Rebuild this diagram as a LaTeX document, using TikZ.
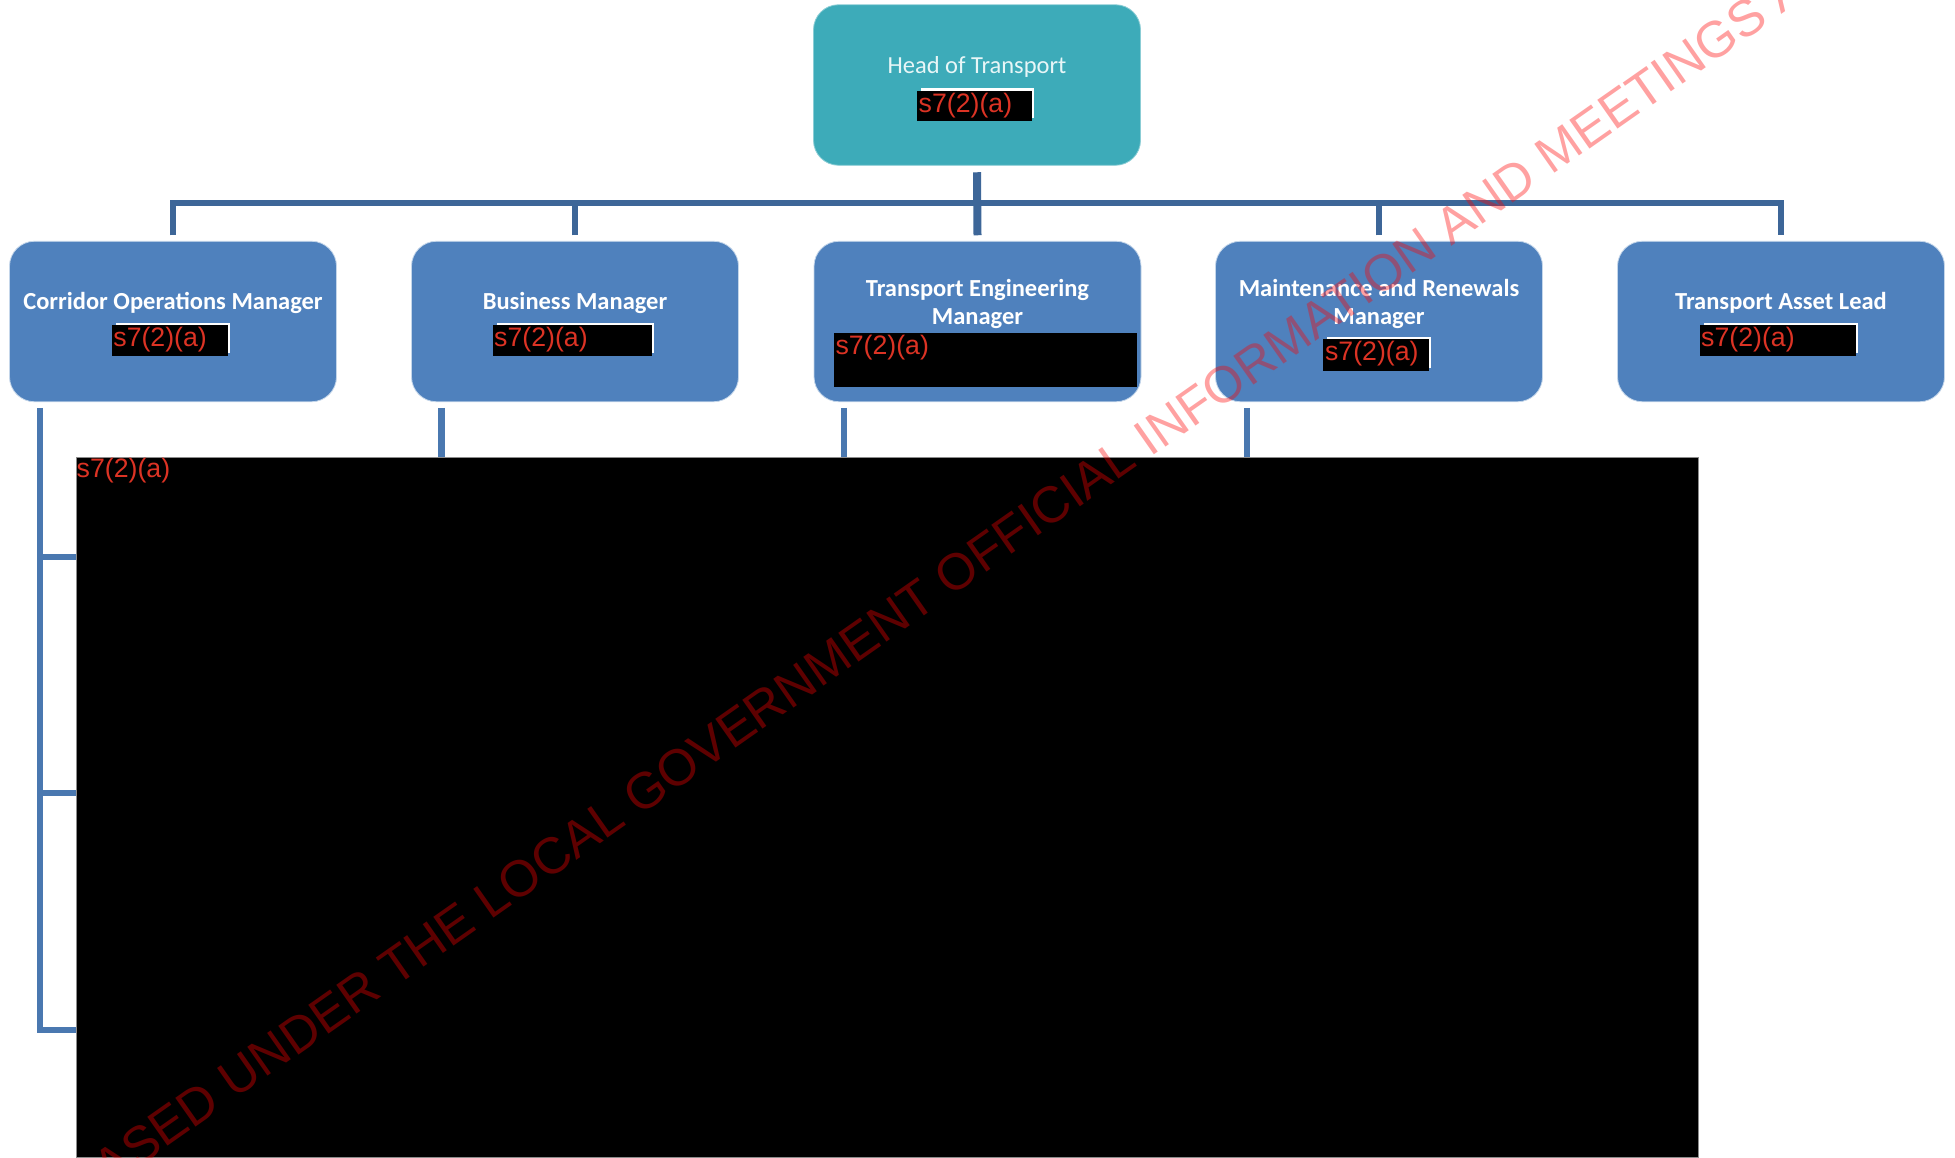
\documentclass[tikz,border=0pt]{standalone}
\usepackage{fontspec}
\setmainfont{Carlito}
\newfontfamily\redfont{Liberation Sans}
\usetikzlibrary{calc}
\definecolor{boxblue}{HTML}{4F81BD}
\definecolor{boxteal}{HTML}{3DABB9}
\definecolor{busblue}{HTML}{3D6698}
\definecolor{stemblue}{HTML}{4A78B0}
\definecolor{redtxt}{HTML}{DC3324}
\definecolor{headtxt}{HTML}{E8F6F7}
\definecolor{boxedge}{HTML}{C4D6EA}
\tikzset{
  orgbox/.style={draw=boxedge,line width=0.8pt,fill=boxblue,rounded corners=25pt,minimum width=327pt,minimum height=160.5pt,inner sep=0pt,outer sep=0pt},
  headbox/.style={orgbox,fill=boxteal,draw=boxteal!60!white},
  title/.style={text=white,font=\fontsize{24.5}{28}\selectfont\bfseries,align=center,inner sep=0pt},
  headtitle/.style={text=headtxt,font=\fontsize{24.5}{28}\selectfont,align=center,inner sep=0pt},
  bar/.style={draw=busblue,line width=6.5pt,line join=miter},
  thick bar/.style={draw=busblue,line width=8pt},
  stem/.style={draw=stemblue,line width=6.5pt,line join=miter},
  redtext/.style={text=redtxt,font=\redfont\fontsize{26.7}{30}\selectfont,inner sep=0pt,anchor=base west},
  watermark/.style={text=red,text opacity=0.37,font=\redfont\fontsize{51.1}{56}\selectfont,inner sep=0pt,anchor=base west,rotate=35.05}
}
\newcommand{\redbox}[6]{%
  \fill[white] (#2+4,#3-2.5) rectangle (#4+2.5,#5-3);
  \fill[black] (#2,#3) rectangle (#4,#5);
  \node[redtext] (#1) at (#2+1.5,#6) {s7(2)(a)};
}
\begin{document}
\begin{tikzpicture}[x=1pt,y=-1pt]
\useasboundingbox (0,0) rectangle (1955,1157);
\fill[white] (0,0) rectangle (1955,1157);
% boxes
\node[headbox] (head) at (977,85) {};
\node[orgbox] (b1) at (173,321.5) {};
\node[orgbox] (b2) at (575,321.5) {};
\node[orgbox] (b3) at (977.5,321.5) {};
\node[orgbox] (b4) at (1379,321.5) {};
\node[orgbox] (b5) at (1781,321.5) {};
\coordinate (bus) at (977,203);
\draw[bar] ([yshift=6pt]b1.north) -- (b1.north |- bus) -- (b5.north |- bus) -- ([yshift=6pt]b5.north);
\draw[bar] ([yshift=6pt]b2.north) -- (b2.north |- bus);
\draw[bar] ([yshift=6pt]b4.north) -- (b4.north |- bus);
\draw[thick bar] ([yshift=-7pt]head.south) -- ([yshift=6pt]b3.north);
% titles
\node[headtitle] (t0) at (977,67) {Head of Transport};
\node[title] (t1) at (173,303) {Corridor Operations Manager};
\node[title] (t2) at (575,303) {Business Manager};
\node[title] (t3) at (977.5,304) {Transport Engineering\\Manager};
\node[title] (t4) at (1379,304) {Maintenance and Renewals\\Manager};
\node[title] (t5) at (1781,303) {Transport Asset Lead};
% stems and the large redaction
\coordinate (s1) at ([xshift=-133pt,yshift=-6pt]b1.south);
\coordinate (s2) at ([xshift=-133.3pt,yshift=-6pt]b2.south);
\coordinate (s3) at ([xshift=-133.7pt,yshift=-6pt]b3.south);
\coordinate (s4) at ([xshift=-132.2pt,yshift=-6pt]b4.south);
\node[fill=black,draw=black!45!white,line width=0.6pt,minimum width=1622pt,minimum height=700.5pt,inner sep=0pt,outer sep=0pt,anchor=north west] (redact) at (76,456.8) {};
\path (40,557) coordinate (k1) (40,793) coordinate (k2) (40,1030) coordinate (k3);
\draw[stem] (s1) -- (k3) -- (k3 -| redact.west);
\draw[stem] (k1) -- (k1 -| redact.west);
\draw[stem] (k2) -- (k2 -| redact.west);
\draw[stem] (s2) -- (s2 |- redact.north);
\draw[stem] (s3) -- (s3 |- redact.north);
\draw[stem] (s4) -- (s4 |- redact.north);
\node[redtext] (r6) at (76.5,477) {s7(2)(a)};
% small redactions
\redbox{r0}{917}{90.7}{1031.7}{120.7}{112}
\redbox{r1}{111.7}{325}{227.7}{355.7}{346.5}
\redbox{r2}{492.5}{325}{651.5}{355.7}{346.5}
\fill[black] (833.8,332.7) rectangle (1136.8,387.3);
\node[redtext] (r3) at (835.3,354.5) {s7(2)(a)};
\redbox{r4}{1323.4}{339.3}{1428.9}{370.7}{360}
\redbox{r5}{1699.5}{325}{1855.5}{355.7}{346.5}
% watermark
\node[watermark] (wm) at (109,1188) {ASED UNDER THE LOCAL GOVERNMENT OFFICIAL INFORMATION AND MEETINGS A};
\end{tikzpicture}
\end{document}
